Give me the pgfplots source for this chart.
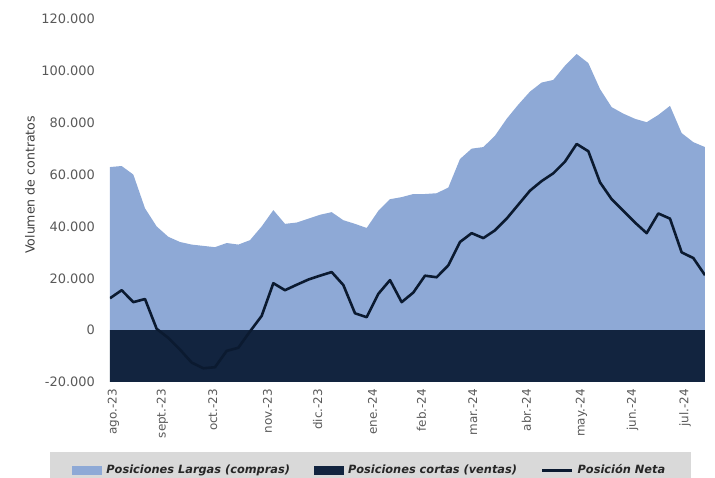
\documentclass[border=0pt]{standalone}
\usepackage{pgfplots}
\pgfplotsset{compat=1.18}
\usepackage{pgfplotstable}
\usepackage{fontspec}
\setmainfont{DejaVu Sans}

\definecolor{largas}{HTML}{8EA9D6}
\definecolor{cortas}{HTML}{12243F}
\definecolor{neta}{HTML}{0B1A30}
\definecolor{leyenda}{HTML}{D9D9D9}
\definecolor{etiqueta}{HTML}{595959}

% semanas (k), posiciones en contratos
\pgfplotstableread{
k largas cortas neta
0 62900 -50600 12300
1 63300 -47900 15400
2 60000 -49200 10800
3 47000 -35000 12000
4 40000 -39500 500
5 36000 -39000 -3000
6 34000 -41500 -7500
7 33000 -45500 -12500
8 32500 -47200 -14700
9 32000 -46300 -14300
10 33600 -41600 -8000
11 33000 -39800 -6800
12 34700 -35200 -500
13 40000 -34500 5500
14 46300 -28200 18100
15 41000 -25600 15400
16 41500 -24000 17500
17 43000 -23500 19500
18 44500 -23500 21000
19 45500 -23100 22400
20 42400 -25000 17400
21 41000 -34500 6500
22 39400 -34400 5000
23 46000 -32000 14000
24 50500 -31200 19300
25 51300 -40500 10800
26 52500 -38000 14500
27 52500 -31500 21000
28 52800 -32400 20400
29 55000 -30000 25000
30 66000 -32000 34000
31 70000 -32600 37400
32 70600 -35100 35500
33 75000 -36500 38500
34 81500 -38500 43000
35 87000 -38600 48400
36 92000 -38200 53800
37 95500 -38000 57500
38 96500 -36000 60500
39 102000 -37000 65000
40 106500 -34700 71800
41 103000 -34000 69000
42 93000 -36000 57000
43 86000 -35500 50500
44 83500 -37500 46000
45 81500 -40000 41500
46 80200 -42800 37400
47 83000 -38000 45000
48 86500 -43500 43000
49 76000 -46000 30000
50 72500 -44700 27800
51 70600 -49400 21200
}\posiciones

\begin{document}
\begin{tikzpicture}
\begin{axis}[
  at={(0,0)}, anchor=south west,
  scale only axis,
  width=297.5bp, height=181.5bp,
  xmin=0, xmax=51,
  ymin=-20000, ymax=120000,
  scaled y ticks=false,
  axis line style={draw=none},
  major tick length=0,
  xtick={0.3,4.5,8.8,13.5,17.8,22.5,26.7,31.1,35.7,40.4,44.8,49.3},
  xticklabels={ago.-23,sept.-23,oct.-23,nov.-23,dic.-23,ene.-24,feb.-24,mar.-24,abr.-24,may.-24,jun.-24,jul.-24},
  x tick label style={rotate=90, anchor=east, font=\fontsize{6}{7}\selectfont, text=etiqueta},
  ytick={-20000,0,20000,40000,60000,80000,100000,120000},
  yticklabels={-20.000,0,20.000,40.000,60.000,80.000,100.000,120.000},
  y tick label style={font=\fontsize{6.5}{7.5}\selectfont, text=etiqueta, xshift=-4bp},
  ylabel={Volumen de contratos},
  ylabel style={at={(axis description cs:-0.1345,0.543)}, anchor=center, font=\fontsize{6.3}{7.5}\selectfont, text=black!75},
  legend columns=3,
  legend style={at={(axis description cs:-0.1008,-0.1928)}, anchor=north west,
    fill=leyenda, draw=none, inner xsep=11bp, inner ysep=4bp,
    font=\fontsize{5.7}{7}\selectfont\bfseries\itshape, text=black!85,
    /tikz/every even column/.append style={column sep=10bp}},
]
\addplot[fill=largas, draw=none,
  legend image code/.code={\fill[largas] (0bp,-2.3bp) rectangle (15bp,2.3bp);}]
  table[x=k, y=largas] {\posiciones} \closedcycle;
\addlegendentry{Posiciones Largas (compras)}
\addplot[fill=cortas, draw=none,
  legend image code/.code={\fill[cortas] (0bp,-2.3bp) rectangle (15bp,2.3bp);}]
  table[x=k, y=cortas] {\posiciones} \closedcycle;
\addlegendentry{Posiciones cortas (ventas)}
\addplot[neta, line width=1.3bp, line join=round,
  legend image code/.code={\draw[neta, line width=1.3bp] (0bp,0bp) -- (15bp,0bp);}]
  table[x=k, y=neta] {\posiciones};
\addlegendentry{Posición Neta}
\end{axis}
\pgfresetboundingbox
\path (-55bp,-48bp) rectangle (302.5bp,191bp);
\end{tikzpicture}
\end{document}
